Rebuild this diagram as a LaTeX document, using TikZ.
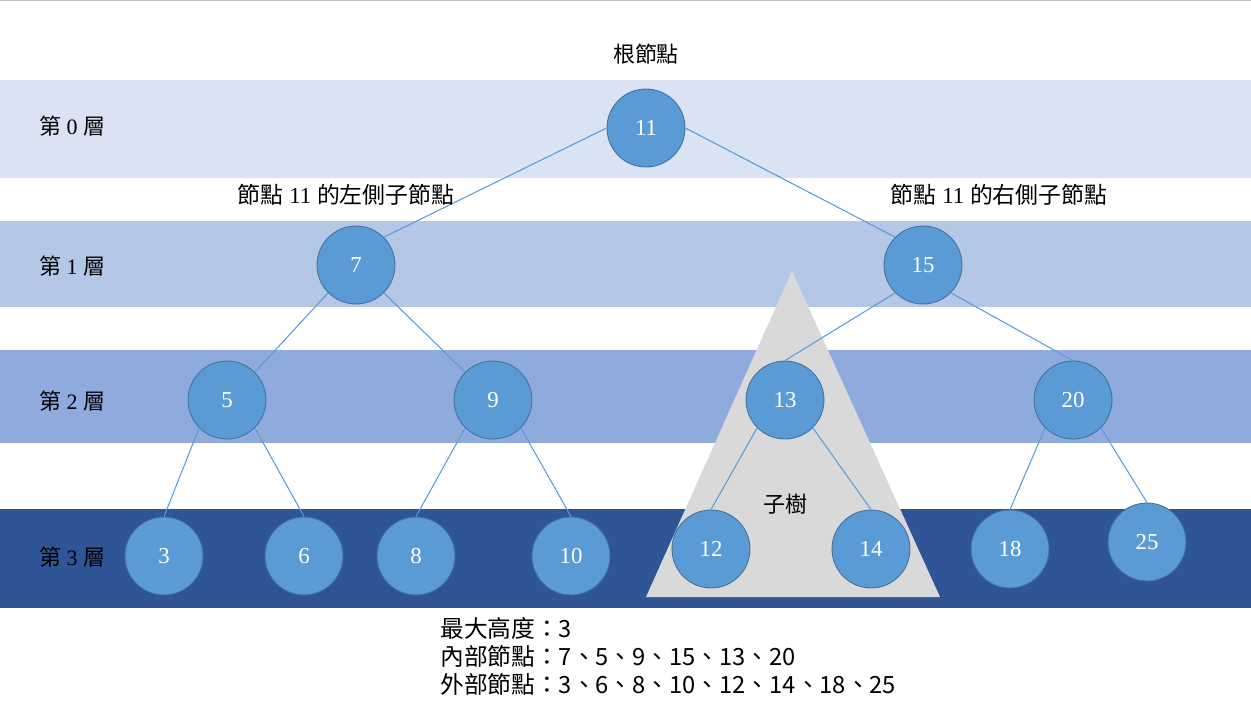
\documentclass[tikz,border=0pt]{standalone}
\usepackage{fontspec}
\setmainfont{Liberation Serif}
\newfontfamily\cjk{Noto Sans CJK TC}
\definecolor{bandA}{HTML}{DAE3F3}
\definecolor{bandB}{HTML}{B4C7E7}
\definecolor{bandC}{HTML}{8FAADC}
\definecolor{bandD}{HTML}{2F5597}
\definecolor{nodefill}{HTML}{5B9BD5}
\definecolor{nodeline}{HTML}{41719C}
\definecolor{subtree}{HTML}{D9D9D9}

\begin{document}
\begin{tikzpicture}
 [x=0.02cm,y=-0.02cm,
   treenode/.style={circle,fill=nodefill,draw=nodeline,line width=0.5pt,
     minimum size=1.56cm,inner sep=0pt,text=white,font=\fontsize{13}{15}\selectfont},
   levellabel/.style={anchor=west,font=\fontsize{12.5}{15}\selectfont},
   caption/.style={font=\cjk\fontsize{12.5}{15}\selectfont},
   edge/.style={draw=nodefill,line width=0.6pt}]
  \useasboundingbox (0,0) rectangle (1251,704);
  \draw[draw=black!25,line width=0.8pt] (0,0.5) -- (1251,0.5);
  % level bands
  \fill[bandA] (0,80) rectangle (1251,178);
  \fill[bandB] (0,221) rectangle (1251,307);
  \fill[bandC] (0,350) rectangle (1251,443);
  \fill[bandD] (0,509) rectangle (1251,608);
  \node[levellabel] (lv0) at (33,126) {{\cjk 第} 0 {\cjk 層}};
  \node[levellabel] (lv1) at (33,266) {{\cjk 第} 1 {\cjk 層}};
  \node[levellabel] (lv2) at (33,401) {{\cjk 第} 2 {\cjk 層}};
  \node[levellabel] (lv3) at (33,557) {{\cjk 第} 3 {\cjk 層}};
  % subtree
  \fill[subtree] (792,271) -- (940,597) -- (646,597) -- cycle;
  \node[caption] (sub) at (785,504) {子樹};
  % nodes
  \node[treenode] (n11) at (646,128) {11};
  \node[treenode] (n7) at (356,265) {7};
  \node[treenode] (n15) at (923,265) {15};
  \node[treenode] (n5) at (227,400) {5};
  \node[treenode] (n9) at (493,400) {9};
  \node[treenode] (n13) at (785,400) {13};
  \node[treenode] (n20) at (1073,400) {20};
  \node[treenode] (n3) at (164,556) {3};
  \node[treenode] (n6) at (304,556) {6};
  \node[treenode] (n8) at (416,556) {8};
  \node[treenode] (n10) at (571,556) {10};
  \node[treenode] (n12) at (711,549) {12};
  \node[treenode] (n14) at (871,549) {14};
  \node[treenode] (n18) at (1010,549) {18};
  \node[treenode] (n25) at (1147,542) {25};
  % edges
  \path[edge] (n11.west) -- (n7.north east) (n11.east) -- (n15.north west)
    (n7.south west) -- (n5.north east) (n7.south east) -- (n9.north west)
    (n15.south west) -- (n13.north) (n15.south east) -- (n20.north)
    (n5.south west) -- (n3.north) (n5.south east) -- (n6.north)
    (n9.south west) -- (n8.north) (n9.south east) -- (n10.north)
    (n13.south west) -- (n12.north) (n13.south east) -- (n14.north)
    (n20.south west) -- (n18.north) (n20.south east) -- (n25.north);
  % captions
  \node[caption] (root) at (646,54) {根節點};
  \node[font=\fontsize{13}{15}\selectfont] (left) at (346,195) {{\cjk 節點} 11 {\cjk 的左側子節點}};
  \node[font=\fontsize{13}{15}\selectfont] (right) at (999,195) {{\cjk 節點} 11 {\cjk 的右側子節點}};
  \node[anchor=north west,align=left,inner sep=0pt,font=\cjk\fontsize{13.5}{15.9}\selectfont] (info) at (440,617)
    {最大高度：3\\內部節點：7、5、9、15、13、20\\外部節點：3、6、8、10、12、14、18、25};
\end{tikzpicture}
\end{document}
